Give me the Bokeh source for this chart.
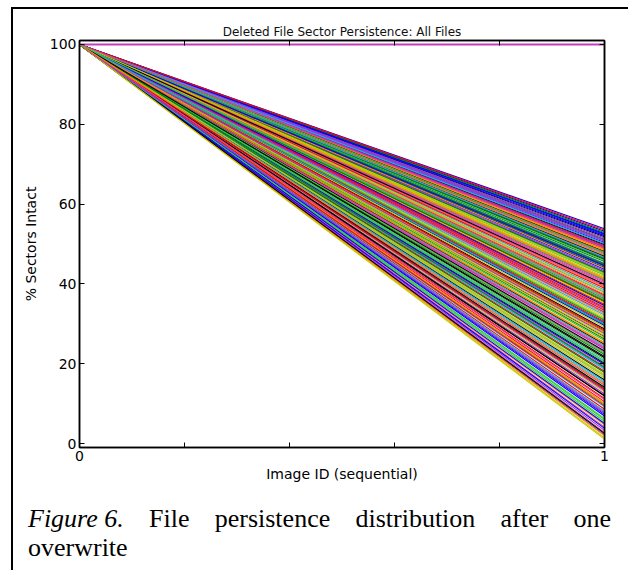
from bokeh.plotting import figure
from bokeh.models import Range1d, LinearAxis, FixedTicker, Div
from bokeh.layouts import column
from bokeh.embed import file_html
from bokeh.resources import INLINE

title_text = "Deleted File Sector Persistence: All Files"
x_label = "Image ID (sequential)"
y_label = "% Sectors Intact"

image_ids = [0, 1]
start_pct = 100.0
# percentage of sectors still intact in image 1, one entry per deleted file
end_pct = [
    53.8, 51.2, 49.6, 47.3, 12.4, 33.1, 28.7, 41.5, 22.9, 6.3, 50.4, 44.8, 37.2, 18.6, 2.1, 31.4, 46.1, 25.3, 39.7, 9.8,
    52.6, 48.9, 35.5, 15.2, 43.3, 27.4, 20.1, 4.7, 49.1, 36.8, 30.2, 45.6, 11.3, 24.5, 40.9, 17.3, 51.8, 34.4, 7.9, 42.2,
    29.6, 13.8, 48.2, 38.5, 23.7, 1.4, 46.9, 32.6, 19.4, 50.9, 44.1, 26.2, 10.5, 37.9, 3.3, 47.8, 21.5, 35.9, 14.6, 41.1,
    52.1, 28.1, 8.6, 45.2, 33.8, 16.4, 49.9, 39.2, 24.1, 5.5, 43.7, 30.9, 18.1, 50.1, 36.3, 12.9, 47.0, 27.9, 2.8, 42.6,
    53.2, 22.3, 38.9, 9.2, 46.5, 31.8, 15.9, 48.5, 40.3, 25.8, 6.9, 44.4, 34.9, 20.7, 51.5, 29.2, 11.9, 37.5, 4.1, 45.9,
    26.8, 17.8, 49.3, 32.2, 13.3, 41.8, 23.2, 1.9, 47.6, 36.0, 19.8, 52.9, 30.5, 8.1, 43.0, 27.0, 14.1, 48.7, 39.5, 21.1,
    5.0, 46.3, 34.1, 16.9, 50.7, 38.1, 24.9, 10.1, 44.9, 31.1, 3.8, 42.9, 28.4, 18.9, 51.0, 35.2, 12.0, 47.2, 40.6, 22.6,
    7.3, 45.0, 33.4, 15.6, 49.4, 26.5, 2.5, 43.9, 37.0, 20.4, 52.4, 29.9, 9.5, 46.7, 32.9, 17.0, 48.0, 41.3, 23.9, 6.0,
    44.6, 35.7, 13.6, 50.2, 27.6, 1.1, 39.9, 25.1, 11.0, 47.9, 34.6, 19.1, 53.5, 30.0, 7.6, 42.4, 21.8, 14.9, 49.0, 36.6,
]
full_files = [100.0]

palette = ["#0000ff", "#008000", "#ff0000", "#22a8e0", "#9b30e0", "#c8c800",
           "#000000", "#ff8c00", "#e0409a", "#3cc83c"]

x_ticks = [0, 1]
x_tick_labels = ["0", "1"]
x_minor_ticks = [0.2, 0.4, 0.6, 0.8]
y_ticks = [0, 20, 40, 60, 80, 100]

caption_label = "Figure 6."
caption_line1 = "File persistence distribution after one"
caption_line2 = "overwrite"

FONT = "DejaVu Sans"

p = figure(width=615, height=495, output_backend="svg", toolbar_location=None,
           x_range=Range1d(0, 1), y_range=Range1d(-1, 101),
           min_border_left=66, min_border_right=24, min_border_top=31, min_border_bottom=57,
           title=title_text)
p.background_fill_color = "white"
p.border_fill_color = "white"
p.outline_line_color = "black"
p.outline_line_width = 1.5
p.grid.visible = False

p.title.text_font = FONT
p.title.text_font_size = "12px"
p.title.text_font_style = "normal"
p.title.text_color = "#111111"
p.title.align = "center"
p.title.standoff = 4

xs = [image_ids for _ in end_pct]
ys = [[start_pct, v] for v in end_pct]
cols = [palette[i % len(palette)] for i in range(len(end_pct))]
p.multi_line(xs=xs, ys=ys, line_color=cols, line_width=1.1)
p.multi_line(xs=[image_ids for _ in full_files], ys=[[start_pct, v] for v in full_files],
             line_color="#c040c0", line_width=1.8)

p.add_layout(LinearAxis(), "above")
p.add_layout(LinearAxis(), "right")

p.below[0].ticker = FixedTicker(ticks=x_ticks, minor_ticks=x_minor_ticks)
p.below[0].major_label_overrides = {t: lab for t, lab in zip(x_ticks, x_tick_labels)}
p.above[0].ticker = FixedTicker(ticks=[], minor_ticks=x_ticks + x_minor_ticks)
p.left[0].ticker = FixedTicker(ticks=y_ticks)
p.right[0].ticker = FixedTicker(ticks=[], minor_ticks=y_ticks)

for ax in p.axis:
    ax.axis_line_color = "black"
    ax.axis_line_width = 1.5
    ax.major_tick_in = 5
    ax.major_tick_out = 0
    ax.minor_tick_in = 5
    ax.minor_tick_out = 0
    ax.major_tick_line_color = "black"
    ax.minor_tick_line_color = "black"
    ax.major_label_text_font = FONT
    ax.major_label_text_font_size = "14px"
    ax.major_label_text_color = "black"
    ax.axis_label_text_font = FONT
    ax.axis_label_text_font_size = "14px"
    ax.axis_label_text_font_style = "normal"
    ax.axis_label_text_color = "black"

p.below[0].axis_label = x_label
p.below[0].major_label_standoff = 3
p.below[0].axis_label_standoff = 2
p.left[0].axis_label = y_label
p.left[0].major_label_standoff = 3
p.left[0].axis_label_standoff = 8

words = [f"<i>{caption_label}</i>"] + caption_line1.split()
line1_html = "".join(f"<span>{w}</span>" for w in words)
cap = Div(
    text=(
        '<div style="display: flex; justify-content: space-between; width: 583px; white-space: nowrap;">'
        f'{line1_html}</div>'
        f'<div>{caption_line2}</div>'
    ),
    width=585, height=66, margin=(0, 0, 0, 15),
    styles={"font-family": "Liberation Serif", "font-size": "26px", "line-height": "29px",
            "color": "black"},
)

layout = column(p, cap, margin=(7, 0, 0, 11),
                styles={"border-left": "2px solid black", "border-top": "2px solid black",
                        "background-color": "white"})

open("out.html", "w").write(file_html(layout, INLINE))
